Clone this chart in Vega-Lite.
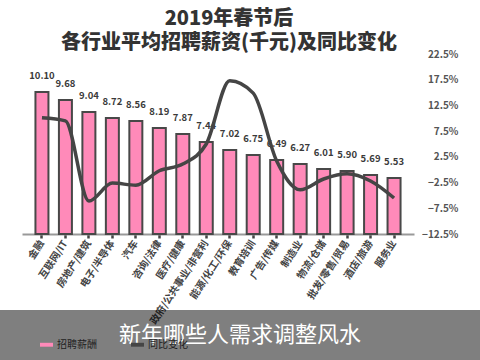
{
  "$schema": "https://vega.github.io/schema/vega-lite/v6.json",
  "padding": {"top": 9, "left": 0, "right": 0, "bottom": 0},
  "background": "white",
  "spacing": -16,
  "align": "none",
  "resolve": {"legend": {"color": "shared"}},
  "config": {"view": {"stroke": null}, "font": "Noto Sans CJK SC"},
  "vconcat": [
    {
      "width": 414,
      "height": 180,
      "title": {
        "text": ["2019年春节后", "各行业平均招聘薪资(千元)及同比变化"],
        "fontSize": 20,
        "fontWeight": 900,
        "lineHeight": 24,
        "color": "#333333",
        "anchor": "middle",
        "frame": "bounds",
        "offset": -4,
        "font": "Noto Sans CJK SC"
      },
      "data": {
        "values": [
          {"industry": "金融", "salary": 10.10, "yoy": 10.1},
          {"industry": "互联网/IT", "salary": 9.68, "yoy": 9.5},
          {"industry": "房地产/建筑", "salary": 9.04, "yoy": -6.1},
          {"industry": "电子/半导体", "salary": 8.72, "yoy": -2.6},
          {"industry": "汽车", "salary": 8.56, "yoy": -3.0},
          {"industry": "咨询/法律", "salary": 8.19, "yoy": -0.2},
          {"industry": "医疗/健康", "salary": 7.87, "yoy": 1.1},
          {"industry": "政府/公共事业/非营利", "salary": 7.44, "yoy": 5.0},
          {"industry": "能源/化工/环保", "salary": 7.02, "yoy": 17.3},
          {"industry": "教育培训", "salary": 6.75, "yoy": 14.9},
          {"industry": "广告/传媒", "salary": 6.49, "yoy": 1.7},
          {"industry": "制造业", "salary": 6.27, "yoy": -3.9},
          {"industry": "物流/仓储", "salary": 6.01, "yoy": -1.8},
          {"industry": "批发/零售/贸易", "salary": 5.90, "yoy": -0.8},
          {"industry": "酒店/旅游", "salary": 5.69, "yoy": -2.2},
          {"industry": "服务业", "salary": 5.53, "yoy": -5.5}
        ]
      },
      "encoding": {
        "x": {
          "field": "industry",
          "type": "nominal",
          "sort": null,
          "scale": {"paddingInner": 0, "paddingOuter": 0.35, "range": [22, 414]},
          "axis": {
            "title": null,
            "labelAngle": -57,
            "labelFontSize": 10,
            "labelFontWeight": "bold",
            "labelColor": "#444444",
            "labelFont": "Noto Sans CJK SC",
            "labelPadding": 3,
            "domainColor": "#999999",
            "domainWidth": 2,
            "tickColor": "#444444",
            "tickSize": 4,
            "tickWidth": 2.5
          }
        }
      },
      "layer": [
        {
          "layer": [
            {
              "mark": {"type": "bar", "size": 13, "stroke": "#484848", "strokeWidth": 2},
              "encoding": {
                "y": {
                  "field": "salary",
                  "type": "quantitative",
                  "scale": {"domain": [2.55, 12.12], "zero": false, "nice": false},
                  "axis": null
                },
                "y2": {"datum": 2.55},
                "color": {
                  "datum": "招聘薪酬",
                  "scale": {"domain": ["招聘薪酬", "同比变化"], "range": ["#ff8ab9", "#454545"]},
                  "legend": {
                    "orient": "none",
                    "legendX": 40,
                    "legendY": 284,
                    "direction": "horizontal",
                    "title": null,
                    "symbolType": "M-1,-0.3L1,-0.3L1,0.3L-1,0.3Z",
                    "symbolSize": 169,
                    "symbolStrokeWidth": 0,
                    "labelFontSize": 10,
                    "labelColor": "#1e1e1e",
                    "labelFont": "Noto Sans CJK SC",
                    "columnPadding": 34,
                    "encode": {
                      "symbols": {
                        "update": {
                          "fill": {"signal": "datum.value === '招聘薪酬' ? '#8e3c66' : '#2e5590'"},
                          "stroke": {"value": "transparent"}
                        }
                      }
                    }
                  }
                }
              }
            },
            {
              "mark": {"type": "text", "dy": -16, "fontSize": 9.5, "fontWeight": "bold", "color": "#3a3a3a", "baseline": "middle"},
              "encoding": {
                "y": {"field": "salary", "type": "quantitative"},
                "text": {"field": "salary", "type": "quantitative", "format": ".2f"}
              }
            }
          ]
        },
        {
          "mark": {"type": "line", "interpolate": "monotone", "strokeWidth": 3.5},
          "encoding": {
            "y": {
              "field": "yoy",
              "type": "quantitative",
              "scale": {"domain": [-12.5, 22.5], "zero": false, "nice": false},
              "axis": {
                "orient": "right",
                "title": null,
                "values": [-12.5, -7.5, -2.5, 2.5, 7.5, 12.5, 17.5, 22.5],
                "labelExpr": "format(datum.value, '.1f') + '%'",
                "domain": false,
                "ticks": false,
                "grid": false,
                "labelAlign": "right",
                "labelPadding": 44,
                "labelFontSize": 10,
                "labelFontWeight": "bold",
                "labelColor": "#555555",
                "labelBaseline": "middle"
              }
            },
            "color": {"datum": "同比变化"}
          }
        }
      ],
      "resolve": {"scale": {"y": "independent"}}
    },
    {
      "width": 480,
      "height": 50,
      "view": {"fill": "black", "fillOpacity": 0.5, "stroke": null},
      "data": {"values": [{"caption": "新年哪些人需求调整风水"}]},
      "mark": {"type": "text", "color": "white", "fontSize": 22, "baseline": "middle", "font": "Noto Sans CJK SC"},
      "encoding": {"text": {"field": "caption", "type": "nominal"}}
    }
  ]
}
